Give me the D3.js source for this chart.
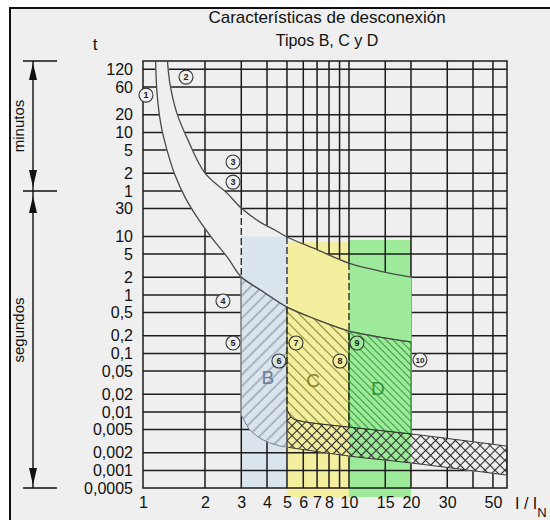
<!DOCTYPE html>
<html>
<head>
<meta charset="utf-8">
<script src="https://cdn.jsdelivr.net/npm/d3@7"></script>
<style>
  body { margin: 0; background: #fff; }
  svg { display: block; font-family: "Liberation Sans", Arial, sans-serif; }
</style>
</head>
<body>
<div id="chart"></div>
<script>
// Ticks: x in multiples of In, t in seconds
const xTicks = [1, 2, 3, 4, 5, 6, 7, 8, 10, 15, 20, 30, 50];
const xGrid = [2, 3, 4, 5, 6, 7, 8, 9, 10, 15, 20, 30, 40, 50];
const yTicks = [7200, 3600, 1200, 600, 300, 120, 60, 30, 10, 5, 2, 1, 0.5, 0.2, 0.1, 0.05, 0.02, 0.01, 0.005, 0.002, 0.001, 0.0005];
const yLabels = ["120", "60", "20", "10", "5", "2", "1", "30", "10", "5", "2", "1", "0,5", "0,2", "0,1", "0,05", "0,02", "0,01", "0,005", "0,002", "0,001", "0,0005"];

// thermal band, [I/In, t]
const curve1 = [[1.15, 12000], [1.17, 2825], [1.223, 802], [1.308, 300], [1.43, 112], [1.599, 47.1], [1.829, 21.4], [2.163, 9.39], [2.586, 4.27], [3, 2.02], [3.78, 1.17], [5, 0.62], [7.07, 0.372], [10, 0.241], [14.1, 0.19], [20, 0.157]];
const curve2 = [[1.31, 12000], [1.35, 4190], [1.46, 1286], [1.654, 444], [2, 121], [2.56, 55], [3, 30.6], [3.7, 17.6], [4.37, 12.9], [5, 9.8], [7.07, 5.85], [10, 3.5], [14.1, 2.56], [20, 2.02]];

// magnetic part
const bLower = [[3, 0.009], [3.13, 0.0067], [3.31, 0.0049], [3.78, 0.0034], [4.47, 0.0027], [5, 0.0025]];
const crossTop = [[5, 0.011], [5.29, 0.0079], [5.8, 0.007], [10, 0.0055], [20, 0.0042], [58.5, 0.0026]];
const crossBottom = [[5, 0.0025], [10, 0.00176], [20, 0.00134], [58.5, 0.00083]];

// zones: name, from, to, top t, bottom t
const zones = [["B", 3, 5, 10, 0.0005], ["C", 5, 10, 8, 0.00035], ["D", 10, 20, 8.7, 0.00035]];
const zoneLabels = [["B", 4.04, 0.0394], ["C", 6.69, 0.0351], ["D", 13.8, 0.0256]];
const dashes = [[3, 30.6, 2.02], [5, 9.8, 0.011], [10, 3.5, 0.0055]];
const markers = [["1", 1.034, 2612], ["2", 1.617, 5310], ["3", 2.735, 187], ["3", 2.735, 85], ["4", 2.445, 0.787], ["5", 2.735, 0.151], ["6", 4.57, 0.0741], ["7", 5.53, 0.151], ["8", 9.04, 0.0741], ["9", 10.94, 0.151], ["10", 22.1, 0.0771]];

const W = 550, H = 520;
const bg = "#efefef";
const zoneColor = { B: "#dae4ec", C: "#f4ef9e", D: "#9deb9a" };
const hatchColor = { B: "#7c8c9e", C: "#8e8a3e", D: "#3f9c3f" };
const labelColor = { B: "#6a7c92", C: "#86862a", D: "#2e963c" };

const svg = d3.select("#chart").append("svg")
    .attr("width", W)
    .attr("height", H);

const x = d3.scaleLog().domain([1, 58.5]).range([143, 507]);
const y = d3.scaleLog().domain([0.0005, 10000]).range([488, 61]);
const [px0, px1] = x.range();
const [py1, py0] = y.range();

const line = d3.line()
    .x(d => x(d[0]))
    .y(d => y(d[1]))
    .curve(d3.curveCatmullRom.alpha(0.5));
const seg = (arr, a, b) => arr.filter(d => d[0] >= a && d[0] <= b);
const rev = arr => [...arr].reverse();
const join = (...parts) => parts.map((p, i) => i ? line(p).replace(/^M/, "L") : line(p)).join("") + "Z";

const bandPath = join(curve2, rev(curve1));
const bPath = join(seg(curve1, 3, 5), rev(bLower));
const cPath = join(seg(curve1, 5, 10), rev(seg(crossTop, 5, 10)));
const dPath = join(seg(curve1, 10, 20), rev(seg(crossTop, 10, 20)));
const crossPath = join(crossTop, rev(crossBottom));

// defs: clip, mask, hatch patterns
const defs = svg.append("defs");
defs.append("clipPath").attr("id", "plotClip")
  .append("rect")
    .attr("x", px0).attr("y", py0)
    .attr("width", px1 - px0).attr("height", py1 - py0);

const mask = defs.append("mask").attr("id", "gridMask")
    .attr("maskUnits", "userSpaceOnUse")
    .attr("x", 0).attr("y", 0).attr("width", W).attr("height", H);
mask.append("rect").attr("width", W).attr("height", H).attr("fill", "white");
[bandPath, bPath, cPath, dPath, crossPath].forEach(p => {
  mask.append("path").attr("d", p).attr("fill", "black").attr("stroke", "black").attr("stroke-width", 1);
});

function hatch(id, size, angle, color, cross) {
  const p = defs.append("pattern").attr("id", id)
      .attr("patternUnits", "userSpaceOnUse")
      .attr("width", size).attr("height", size)
      .attr("patternTransform", `rotate(${angle})`);
  p.append("line").attr("x1", size / 2).attr("x2", size / 2).attr("y1", 0).attr("y2", size)
      .attr("stroke", color).attr("stroke-width", 1.1);
  if (cross) {
    p.append("line").attr("y1", size / 2).attr("y2", size / 2).attr("x1", 0).attr("x2", size)
        .attr("stroke", color).attr("stroke-width", 1.1);
  }
}
hatch("hB", 8, 45, hatchColor.B);
hatch("hC", 7, -45, hatchColor.C);
hatch("hD", 5, -45, hatchColor.D);
hatch("hX", 7, 45, "#2a2a2a", true);

// frame
svg.append("rect")
    .attr("x", 10).attr("y", 8)
    .attr("width", W + 10).attr("height", H + 10)
    .attr("fill", bg)
    .attr("stroke", "#111")
    .attr("stroke-width", 2);

// coloured zones
svg.append("g").selectAll("rect")
    .data(zones)
  .enter().append("rect")
    .attr("x", d => x(d[1]))
    .attr("y", d => y(d[3]))
    .attr("width", d => x(d[2]) - x(d[1]))
    .attr("height", d => y(d[4]) - y(d[3]))
    .attr("fill", d => zoneColor[d[0]]);

// grid
const grid = svg.append("g")
    .attr("mask", "url(#gridMask)")
    .attr("stroke", "#1c1c1c")
    .attr("stroke-width", 1.5);
grid.selectAll(".hl")
    .data(yTicks.slice(0, -1))
  .enter().append("line")
    .attr("x1", px0).attr("x2", px1)
    .attr("y1", d => y(d)).attr("y2", d => y(d));
grid.selectAll(".vl")
    .data(xGrid)
  .enter().append("line")
    .attr("x1", d => x(d)).attr("x2", d => x(d))
    .attr("y1", py0).attr("y2", py1);

svg.append("rect")
    .attr("x", px0).attr("y", py0)
    .attr("width", px1 - px0).attr("height", py1 - py0)
    .attr("fill", "none")
    .attr("stroke", "#1c1c1c")
    .attr("stroke-width", 1.5);

// hatched regions
const regions = [[bPath, "hB", "#6f8092"], [cPath, "hC", "#77722c"], [dPath, "hD", "#2f7f2f"], [crossPath, "hX", "#333"]];
svg.append("g").selectAll("path")
    .data(regions)
  .enter().append("path")
    .attr("d", d => d[0])
    .attr("fill", d => `url(#${d[1]})`)
    .attr("stroke", d => d[2])
    .attr("stroke-width", 1);

// thermal curves
svg.append("g")
    .attr("clip-path", "url(#plotClip)")
  .selectAll("path")
    .data([curve1, curve2])
  .enter().append("path")
    .attr("d", line)
    .attr("fill", "none")
    .attr("stroke", "#4a4a4a")
    .attr("stroke-width", 1.3);

// dashed limits
svg.append("g").selectAll("line")
    .data(dashes)
  .enter().append("line")
    .attr("x1", d => x(d[0])).attr("x2", d => x(d[0]))
    .attr("y1", d => y(d[1])).attr("y2", d => y(d[2]))
    .attr("stroke", "#222")
    .attr("stroke-width", 1.3)
    .attr("stroke-dasharray", "7,3");

// zone letters
svg.append("g").selectAll("text")
    .data(zoneLabels)
  .enter().append("text")
    .attr("x", d => x(d[1]))
    .attr("y", d => y(d[2]))
    .attr("text-anchor", "middle")
    .attr("dominant-baseline", "central")
    .style("font-size", "19px")
    .attr("fill", d => labelColor[d[0]])
    .text(d => d[0]);

// numbered circles
function markerFill(v, t) {
  const z = zones.find(d => v >= d[1] && v < d[2] && t <= d[3]);
  return z ? zoneColor[z[0]] : bg;
}
const mk = svg.append("g").selectAll("g")
    .data(markers)
  .enter().append("g")
    .attr("transform", d => `translate(${x(d[1])},${y(d[2])})`);
mk.append("circle")
    .attr("r", 7)
    .attr("fill", d => markerFill(d[1], d[2]))
    .attr("stroke", "#333")
    .attr("stroke-width", 1.1);
mk.append("text")
    .attr("text-anchor", "middle")
    .attr("dominant-baseline", "central")
    .style("font-size", d => d[0].length > 1 ? "8px" : "9px")
    .style("font-weight", "bold")
    .attr("fill", "#222")
    .text(d => d[0]);

// axes (labels only)
const xAxis = svg.append("g")
    .attr("transform", `translate(0,${py1})`)
    .call(d3.axisBottom(x).tickValues(xTicks).tickSize(0).tickPadding(9).tickFormat(d3.format("d")));
const yAxis = svg.append("g")
    .attr("transform", `translate(${px0},0)`)
    .call(d3.axisLeft(y).tickValues(yTicks).tickSize(0).tickPadding(10).tickFormat((d, i) => yLabels[i]));
[xAxis, yAxis].forEach(a => {
  a.select(".domain").remove();
  a.selectAll("text").style("font-size", "16px").attr("fill", "#111").style("font-family", "Liberation Sans, Arial, sans-serif");
});

svg.append("text")
    .attr("x", 515).attr("y", py1 + 21)
    .style("font-size", "16px")
    .attr("fill", "#111")
    .text("I / I")
  .append("tspan")
    .attr("dy", 8)
    .style("font-size", "13px")
    .text("N");

svg.append("text")
    .attr("x", 95).attr("y", 50)
    .attr("text-anchor", "middle")
    .style("font-size", "17px")
    .attr("fill", "#111")
    .text("t");

// title
svg.append("text")
    .attr("x", 327).attr("y", 23)
    .attr("text-anchor", "middle")
    .style("font-size", "17px")
    .attr("fill", "#111")
    .text("Características de desconexión");
svg.append("text")
    .attr("x", 327).attr("y", 46)
    .attr("text-anchor", "middle")
    .style("font-size", "16px")
    .attr("fill", "#111")
    .text("Tipos B, C y D");

// minutes / seconds brackets
const ax = 33;
const yTop = y(10000), yMid = y(60), yBot = y(0.0005);
const ann = svg.append("g").attr("stroke", "#111").attr("stroke-width", 1.4);
ann.append("line").attr("x1", ax).attr("x2", ax).attr("y1", yTop).attr("y2", yBot);
[yTop, yMid, yBot].forEach(v => {
  ann.append("line").attr("x1", 23).attr("x2", 57).attr("y1", v).attr("y2", v);
});
const arrows = [[yTop + 2, 1], [yMid - 4, -1], [yMid + 5, 1], [yBot - 3, -1]];
svg.append("g").selectAll("path")
    .data(arrows)
  .enter().append("path")
    .attr("d", d => `M${ax},${d[0]}L${ax - 4},${d[0] + 17 * d[1]}L${ax + 4},${d[0] + 17 * d[1]}Z`)
    .attr("fill", "#111");

svg.append("text")
    .attr("transform", `translate(24,${(yTop + yMid) / 2}) rotate(-90)`)
    .attr("text-anchor", "middle")
    .style("font-size", "15px")
    .attr("fill", "#111")
    .text("minutos");
svg.append("text")
    .attr("transform", `translate(24,330) rotate(-90)`)
    .attr("text-anchor", "middle")
    .style("font-size", "15px")
    .attr("fill", "#111")
    .text("segundos");
</script>
</body>
</html>
